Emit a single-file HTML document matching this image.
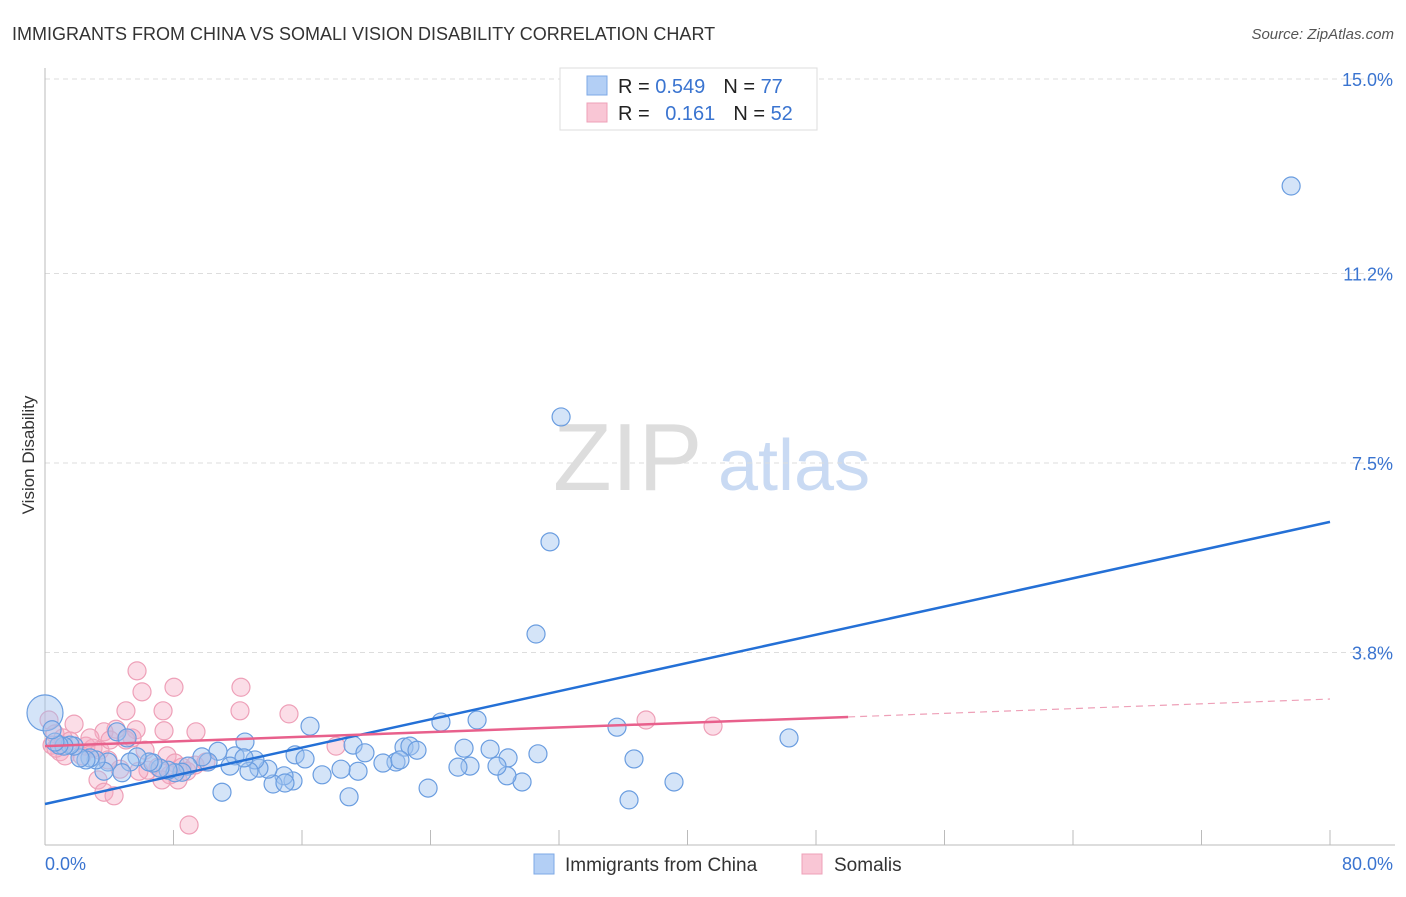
<!DOCTYPE html>
<html><head><meta charset="utf-8"><style>
body{margin:0;background:#fff;font-family:"Liberation Sans",sans-serif;}
svg text{font-family:"Liberation Sans",sans-serif;}
</style></head><body>
<svg id="chart" width="1406" height="892" viewBox="0 0 1406 892" xmlns="http://www.w3.org/2000/svg">
<text x="12" y="40" font-size="18" fill="#333">IMMIGRANTS FROM CHINA VS SOMALI VISION DISABILITY CORRELATION CHART</text>
<text x="1394" y="39" font-size="15" fill="#555" font-style="italic" text-anchor="end">Source: ZipAtlas.com</text>
<text transform="translate(34,455) rotate(-90)" font-size="17" fill="#333" text-anchor="middle">Vision Disability</text>
<g>
<text x="553" y="490" font-size="96" font-family="Liberation Serif,serif" fill="#ddd">ZIP</text>
<text x="718" y="490" font-size="72" fill="#c9daf3">atlas</text>
</g>
<g id="grid"></g>
<g id="axes"></g>
<g id="pts"></g>
<g id="trends"></g>
<g>
<rect x="560" y="68" width="257" height="62" fill="#fff" stroke="#ddd"/>
<rect x="587" y="76" width="20" height="19" fill="#b3cff5" stroke="#7ea8e6"/>
<rect x="587" y="103" width="20" height="19" fill="#f9c6d5" stroke="#eea0b8"/>
<text x="618" y="93" font-size="20" fill="#222">R = <tspan fill="#3a74d0">0.549</tspan><tspan dx="18">N = </tspan><tspan fill="#3a74d0">77</tspan></text>
<text x="618" y="120" font-size="20" fill="#222">R = <tspan dx="10" fill="#3a74d0">0.161</tspan><tspan dx="18">N = </tspan><tspan fill="#3a74d0">52</tspan></text>
</g>
<g>
<rect x="534" y="854" width="20" height="20" fill="#b3cff5" stroke="#7ea8e6"/>
<text x="565" y="871" font-size="19" fill="#333">Immigrants from China</text>
<rect x="802" y="854" width="20" height="20" fill="#f9c6d5" stroke="#eea0b8"/>
<text x="834" y="871" font-size="19" fill="#333">Somalis</text>
</g>
</svg>
<script>
const yTicks=[3.8,7.5,11.2,15.0];
const yTickLabels=["3.8%","7.5%","11.2%","15.0%"];
const xTickValues=[0,8,16,24,32,40,48,56,64,72,80];
const xEndLabels=["0.0%","80.0%"];
const chinaX=[77.58,32.13,31.44,30.57,0,46.32,35.61,24.65,26.90,16.50,19.18,19.92,22.35,22.72,23.16,26.09,27.71,28.83,30.69,36.67,39.16,36.36,29.70,28.76,28.14,26.46,25.71,23.85,21.85,21.04,19.49,18.43,17.25,18.93,15.57,16.19,15.44,14.88,14.20,13.88,13.32,13.07,12.45,12.70,11.83,11.52,11.02,10.77,10.15,9.77,8.90,8.53,8.09,7.66,7.16,6.72,6.48,5.73,5.29,4.79,3.92,3.67,3.18,2.80,2.55,2.18,1.81,1.56,1.18,0.87,0.62,0.44,4.48,5.11,12.39,14.94,22.10];
const chinaY=[12.91,8.40,5.96,4.16,2.62,2.13,2.34,2.44,2.48,2.36,1.99,1.84,1.95,1.97,1.89,1.93,1.91,1.74,1.82,1.72,1.27,0.92,1.27,1.39,1.58,1.58,1.56,1.15,1.66,1.64,1.48,1.52,1.41,0.98,1.80,1.72,1.29,1.39,1.23,1.52,1.54,1.70,2.05,1.48,1.78,1.58,1.07,1.87,1.66,1.76,1.58,1.46,1.45,1.50,1.54,1.64,1.66,1.76,1.66,1.45,1.66,1.48,1.70,1.74,1.70,1.74,1.97,1.99,1.97,1.99,2.05,2.29,2.25,2.13,1.74,1.25,1.70];
const somaliX=[5.73,6.04,8.03,12.20,5.04,7.35,12.14,15.19,9.40,7.41,5.67,5.42,4.42,3.67,1.81,0.25,0.62,1.12,1.56,2.55,2.99,3.42,0.93,1.25,4.05,6.23,7.60,8.09,8.53,7.04,6.41,5.85,4.67,8.84,9.34,7.78,7.28,8.28,3.30,3.67,4.30,8.97,18.12,37.42,41.59,3.92,2.30,0.44,0.68,10.02,5.04,2.80];
const somaliY=[3.44,3.03,3.12,3.12,2.66,2.66,2.66,2.60,2.25,2.27,2.29,2.13,2.30,2.25,2.40,2.48,2.21,2.13,2.07,1.97,1.93,1.89,1.86,1.78,2.09,1.89,1.78,1.64,1.56,1.56,1.50,1.48,1.52,1.48,1.60,1.41,1.31,1.31,1.31,1.07,1.00,0.43,1.97,2.48,2.36,1.70,1.78,1.99,1.93,1.66,2.09,2.13];
const chinaTrend=[[0,0.84],[80,6.35]];
const somaliTrendSolid=[[0,1.97],[50,2.54]];
const somaliTrendDashed=[[50,2.54],[80,2.89]];
const NS="http://www.w3.org/2000/svg";
const X0=45,X1=1330,Y0=847,PXV=51.2;
function xs(v){return X0+(X1-X0)*v/80;}
function ys(v){return Y0-v*PXV;}
function mk(tag,attrs,parent){const e=document.createElementNS(NS,tag);for(const k in attrs)e.setAttribute(k,attrs[k]);parent.appendChild(e);return e;}
const grid=document.getElementById('grid'),axes=document.getElementById('axes'),pts=document.getElementById('pts'),tr=document.getElementById('trends');
yTicks.forEach((t,i)=>{
 const l=mk('line',{x1:45,x2:1395,y1:ys(t),y2:ys(t),stroke:'#ddd','stroke-dasharray':'5,4'},grid);
 
 
 const tx=mk('text',{x:1393,y:ys(t)+7,'font-size':18,fill:'#3a74d0','text-anchor':'end'},grid);
 tx.textContent=yTickLabels[i];
 
 
});
const la=mk('line',{x1:45,x2:45,y1:68,y2:845,stroke:'#bbb'},axes);


const xa=mk('line',{x1:45,x2:1395,y1:845,y2:845,stroke:'#bbb'},axes);


xTickValues.forEach(v=>{
 const t=mk('line',{x1:xs(v),x2:xs(v),y1:830,y2:845,stroke:'#bbb'},axes);
 
 
});
const xl0=mk('text',{x:45,y:870,'font-size':18,fill:'#3a74d0'},axes);xl0.textContent=xEndLabels[0];


const xl1=mk('text',{x:1393,y:870,'font-size':18,fill:'#3a74d0','text-anchor':'end'},axes);xl1.textContent=xEndLabels[1];


somaliX.forEach((x,i)=>{
 const c=mk('circle',{cx:xs(x),cy:ys(somaliY[i]),r:9,fill:'rgba(246,170,195,0.4)',stroke:'#eea0b8','stroke-width':1.2},pts);
 
 
});
chinaX.forEach((x,i)=>{
 const c=mk('circle',{cx:xs(x),cy:ys(chinaY[i]),r:(x===0?18:9),fill:'rgba(160,196,240,0.45)',stroke:'#6a9de0','stroke-width':1.2},pts);
 
 
});
function seg(p,attrs,name){const l=mk('line',Object.assign({x1:xs(p[0][0]),y1:ys(p[0][1]),x2:xs(p[1][0]),y2:ys(p[1][1])},attrs),tr);
 
 }
seg(chinaTrend,{stroke:'#2470d6','stroke-width':2.5},'china-trend-line');
seg(somaliTrendSolid,{stroke:'#e8608c','stroke-width':2.5},'somali-trend-line');
seg(somaliTrendDashed,{stroke:'#eea0b8','stroke-width':1.2,'stroke-dasharray':'7,5'},'somali-trend-extension');
</script>
</body></html>
